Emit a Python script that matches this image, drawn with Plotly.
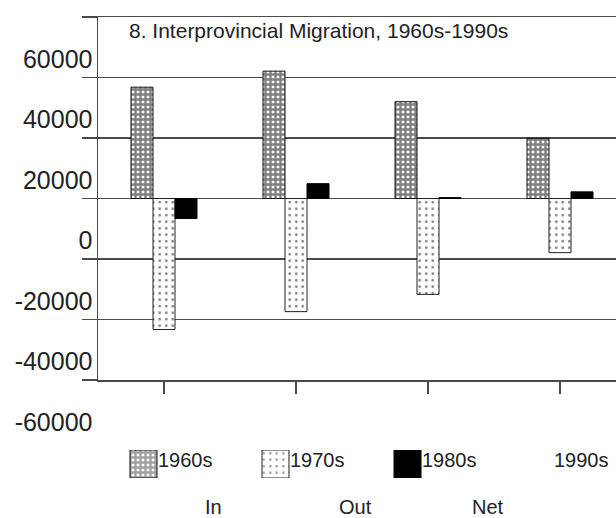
import plotly.graph_objects as go

# ---- data ----
decades = ["1960s", "1970s", "1980s", "1990s"]
series_names = ["In", "Out", "Net"]
in_values = [36800, 42100, 32000, 19900]
out_values = [-43300, -37400, -31700, -17900]
net_values = [-6600, 4900, 300, 2200]
y_ticks = [-60000, -40000, -20000, 0, 20000, 40000, 60000]
legend_labels = ["1960s", "1970s", "1980s", "1990s"]
bottom_labels = ["In", "Out", "Net"]
title_text = "8. Interprovincial Migration, 1960s-1990s"

W, H = 616, 518
ML, MR, MT, MB = 98, 0, 17, 0
PW = W - ML - MR
PH = H - MT - MB
CAT_PX = 132.0
FONT = "Liberation Sans, Arial, sans-serif"
GRID = "#4a4a4a"

x_range = [-0.5, -0.5 + PW / CAT_PX]

IN_PAT = dict(shape="+", size=5, solidity=0.72, fgcolor="black", bgcolor="white")
OUT_PAT = dict(shape=".", size=6.5, solidity=0.14, fgcolor="black", bgcolor="white")

fig = go.Figure()

fig.add_trace(go.Bar(
    x=decades, y=in_values, name=series_names[0],
    marker=dict(color="white", line=dict(color="#111", width=1), pattern=IN_PAT),
    showlegend=False))
fig.add_trace(go.Bar(
    x=decades, y=out_values, name=series_names[1],
    marker=dict(color="white", line=dict(color="#222", width=1), pattern=OUT_PAT),
    showlegend=False))
fig.add_trace(go.Bar(
    x=decades, y=net_values, name=series_names[2],
    marker=dict(color="black", line=dict(color="black", width=1)),
    showlegend=False))

# legend swatches drawn in a separate strip below the plot
leg_idx = list(range(len(legend_labels)))
fig.add_trace(go.Bar(
    x=leg_idx, y=[1] * len(legend_labels), xaxis="x2", yaxis="y2",
    width=27 / CAT_PX, offset=-34 / CAT_PX,
    marker=dict(color=["white", "white", "black", "white"],
                line=dict(color=["#111", "#222", "black", "white"], width=[1, 1, 1, 0]),
                pattern=dict(shape=["+", ".", "", ""],
                             size=[IN_PAT["size"], OUT_PAT["size"], 8, 8],
                             solidity=[IN_PAT["solidity"], OUT_PAT["solidity"], 0.3, 0.3],
                             fgcolor="black", bgcolor="white")),
    showlegend=False, hoverinfo="skip"))

main_bottom = (H - 380 - MB) / PH

fig.update_layout(
    width=W, height=H,
    margin=dict(l=ML, r=MR, t=MT, b=MB, autoexpand=False),
    paper_bgcolor="white", plot_bgcolor="white",
    barmode="group", bargap=0.5, bargroupgap=0,
    font=dict(family=FONT, color="#222"),
    showlegend=False,
    xaxis=dict(type="category", range=x_range, domain=[0, 1],
               showgrid=False, showline=True, linecolor=GRID, linewidth=1.5,
               mirror=True, ticks="outside", ticklen=12, tickcolor=GRID,
               tickwidth=1.2, showticklabels=False, anchor="y",
               automargin=False, fixedrange=True),
    yaxis=dict(range=[-60000, 60000], tickvals=y_ticks,
               ticktext=[str(v) for v in y_ticks], domain=[main_bottom, 1],
               showgrid=True, gridcolor=GRID, gridwidth=1.5,
               zeroline=True, zerolinecolor=GRID, zerolinewidth=1.5,
               showline=True, linecolor=GRID, linewidth=1.5,
               ticks="outside", ticklen=15, tickcolor=GRID, tickwidth=1.5,
               ticklabelshift=42, ticklabelstandoff=-16,
               tickfont=dict(size=25, color="#222", family=FONT),
               anchor="x", automargin=False, fixedrange=True),
    xaxis2=dict(range=x_range, domain=[0, 1], visible=False, anchor="y2",
                fixedrange=True),
    yaxis2=dict(range=[0, 1], domain=[(H - 478) / PH, (H - 450) / PH],
                visible=False, anchor="x2", fixedrange=True),
)

annotations = [dict(text=title_text, xref="paper", yref="paper",
                    x=(127 - ML) / PW, y=(H - 30) / PH, xanchor="left",
                    yanchor="middle", showarrow=False,
                    font=dict(size=21, color="#222", family=FONT))]
for i, lab in enumerate(legend_labels):
    annotations.append(dict(text=lab, xref="x2", yref="paper",
                            x=i - 8 / CAT_PX, y=(H - 460) / PH,
                            xanchor="left", yanchor="middle", showarrow=False,
                            font=dict(size=20, color="#222", family=FONT)))
bottom_px = [213, 355, 488]
for lab, px in zip(bottom_labels, bottom_px):
    annotations.append(dict(text=lab, xref="paper", yref="paper",
                            x=(px - ML) / PW, y=(H - 507) / PH,
                            xanchor="center", yanchor="middle", showarrow=False,
                            font=dict(size=20, color="#222", family=FONT)))
fig.update_layout(annotations=annotations)

fig.write_html("out.html",
               config={"displayModeBar": False, "staticPlot": True},
               post_script="document.body.style.margin='0';document.body.style.overflow='hidden';")
